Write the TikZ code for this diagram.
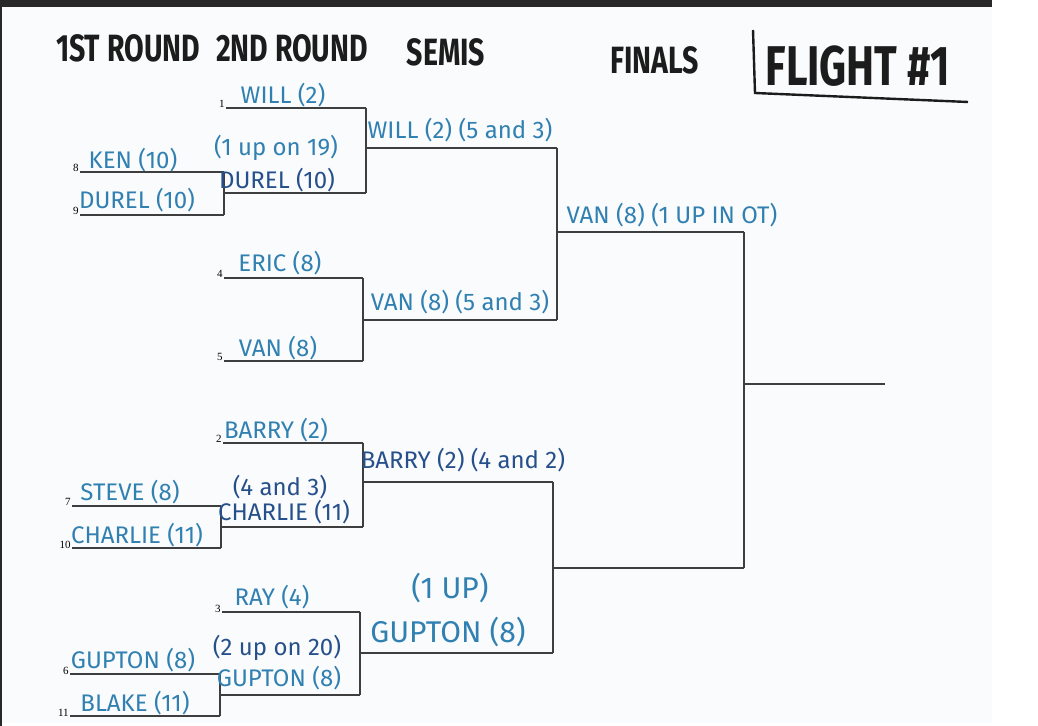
\documentclass[tikz,border=0pt]{standalone}
\usepackage{fontspec}
\setmainfont{Fira Sans}
\newfontfamily\numfont{Liberation Serif}
\newfontfamily\markfont[FakeStretch=0.75]{Fira Sans}
\usetikzlibrary{positioning}
\definecolor{penblue}{RGB}{48,128,178}
\definecolor{pennavy}{RGB}{38,80,140}
\definecolor{rulegray}{RGB}{62,62,62}
\definecolor{markerblack}{RGB}{28,28,28}
\definecolor{paper}{RGB}{250,251,252}
\definecolor{topbar}{RGB}{40,40,40}

\begin{document}
\begin{tikzpicture}[x=0.5pt,y=-0.5pt,
    bline/.style={draw=rulegray, line width=1pt},
    pen/.style={text=penblue, font=\fontsize{12}{12}\selectfont, inner sep=0pt},
    penbig/.style={pen, font=\fontsize{15}{15}\selectfont},
    pendark/.style={pen, text=pennavy},
    head/.style={text=markerblack, font=\markfont\bfseries\fontsize{19}{19}\selectfont, inner sep=0pt},
    seednum/.style={font=\numfont\fontsize{5.5}{6}\selectfont, inner sep=0pt, anchor=base east}]
    \useasboundingbox (0,0) rectangle (1038,726);
    \fill[white] (0,0) rectangle (1038,726);
    \fill[paper] (0,7) rectangle (992,723);
    \fill[topbar] (0,0) rectangle (992,7);
    \draw[topbar, line width=1pt] (1,7) -- (1,726);

    % headings
    \node[head] (hround1) at (128,48) {1ST ROUND};
    \node[head] (hround2) at (292,48) {2ND ROUND};
    \node[head] (hsemis) at (446,52) {SEMIS};
    \node[head] (hfinals) at (655,60) {FINALS};
    \node[head, font=\markfont\bfseries\fontsize{28}{28}\selectfont] (hflight) at (858,66) {FLIGHT \#1};
    \coordinate (fltop) at (753,30);
    \coordinate (flcorner) at (755,93);
    \coordinate (flend) at (968,102);
    \draw[markerblack, line width=1.2pt] (fltop) -- (flcorner) -- (flend);

    % seeded slots: seed / x start / y / x end
    \foreach \n/\x/\y/\e in {1/226/108/366, 8/80/172/224, 9/80/215/224,
        4/224/278/363, 5/224/361/363, 2/223/443/363, 7/72/506/221,
        10/72/548/221, 3/222/612/360, 6/70/674/220, 11/70/716/220} {
        \coordinate (s\n) at (\x,\y);
        \coordinate (e\n) at (\e,\y);
        \draw[bline] (s\n) -- (e\n);
        \node[seednum] (n\n) at ([xshift=-0.5pt]s\n) {\n};
    }

    % winner lines: name / x start / y / x end
    \foreach \m/\x/\y/\e in {a/224/193/366, c/221/527/363, d/220/695/360,
        A/366/148/557, B/363/320/557, C/363/482/553, D/360/653/553,
        F/557/232/744, G/553/568/744, W/744/384/885} {
        \coordinate (l\m) at (\x,\y);
        \coordinate (l\m e) at (\e,\y);
        \draw[bline] (l\m) -- (l\m e);
    }

    % joins
    \draw[bline] (e8) -- (e9);
    \draw[bline] (e1) -- (lae);
    \draw[bline] (e4) -- (e5);
    \draw[bline] (e7) -- (e10);
    \draw[bline] (e2) -- (lce);
    \draw[bline] (e6) -- (e11);
    \draw[bline] (e3) -- (lde);
    \draw[bline] (lAe) -- (lBe);
    \draw[bline] (lCe) -- (lDe);
    \draw[bline] (lFe) -- (lGe);

    % names
    \node[pen] (will) at (283,95) {WILL (2)};
    \node[pen] (ken) at (133,160) {KEN (10)};
    \node[pen] (durel) at (137,200) {DUREL (10)};
    \node[pen] (scorea) at (276,148) {(1 up on 19)};
    \node[pendark] (durelwin) at (277,180) {DUREL (10)};
    \node[pen] (willsemi) at (460,130) {WILL (2) (5 and 3)};
    \node[pen] (vanfinal) at (672,215) {VAN (8) (1 UP IN OT)};
    \node[pen] (eric) at (280,263) {ERIC (8)};
    \node[pen] (van) at (278,348) {VAN (8)};
    \node[pen] (vansemi) at (460,302) {VAN (8) (5 and 3)};
    \node[pen] (barry) at (276,430) {BARRY (2)};
    \node[pendark] (barrysemi) at (463,460) {BARRY (2) (4 and 2)};
    \node[pen] (steve) at (130,492) {STEVE (8)};
    \node[pendark] (scorec) at (280,487) {(4 and 3)};
    \node[pendark] (charliewin) at (284,512) {CHARLIE (11)};
    \node[pen] (charlie) at (137,535) {CHARLIE (11)};
    \node[pen] (ray) at (272,597) {RAY (4)};
    \node[penbig] (scored) at (450,588) {(1 UP)};
    \node[penbig] (guptonsemi) at (448,632) {GUPTON (8)};
    \node[pendark] (scoree) at (277,648) {(2 up on 20)};
    \node[pen] (guptonwin) at (279,678) {GUPTON (8)};
    \node[pen] (gupton) at (133,660) {GUPTON (8)};
    \node[pen] (blake) at (135,703) {BLAKE (11)};
\end{tikzpicture}
\end{document}
